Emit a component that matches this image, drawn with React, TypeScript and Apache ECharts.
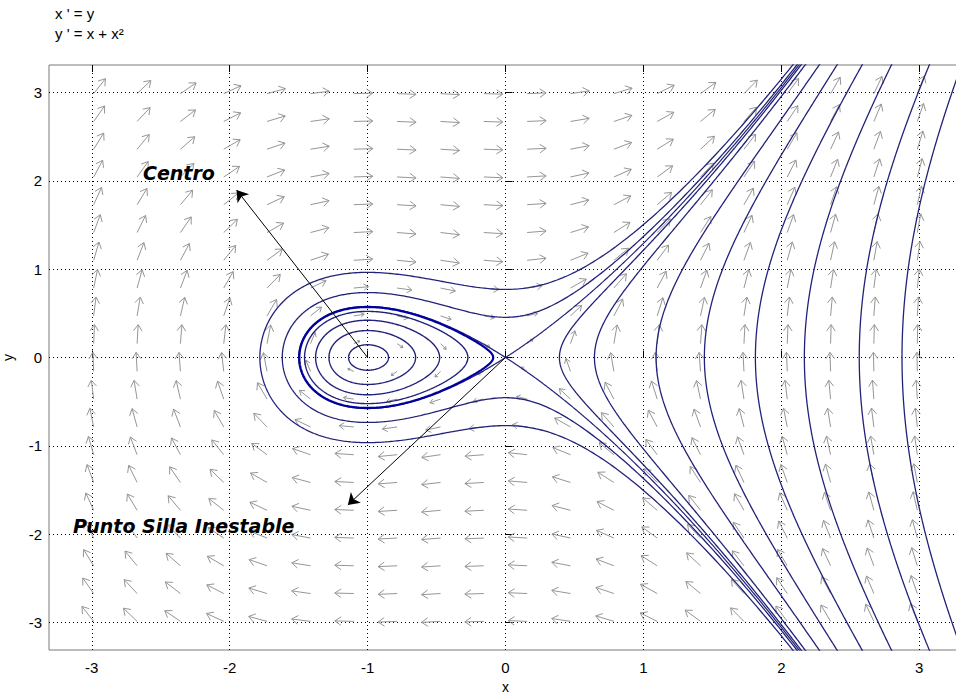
import React, { useEffect, useRef } from 'react';
import * as echarts from 'echarts';

// ---- axes ----
const xTicks = [-3, -2, -1, 0, 1, 2, 3];
const yTicks = [-3, -2, -1, 0, 1, 2, 3];
const axisMin = -3.31;
const axisMax = 3.31;

// ---- direction field grid (arrow tails) ----
const fieldXs = [-2.986, -2.671, -2.357, -2.043, -1.729, -1.414, -1.1, -0.786, -0.471, -0.157,
  0.157, 0.471, 0.786, 1.1, 1.414, 1.729, 2.043, 2.357, 2.671, 2.986];
const fieldYs = [-2.986, -2.671, -2.357, -2.043, -1.729, -1.414, -1.1, -0.786, -0.471, -0.157,
  0.157, 0.471, 0.786, 1.1, 1.414, 1.729, 2.043, 2.357, 2.671, 2.986];

// ---- trajectories ----
// closed orbits around the centre (-1,0): left crossing of the x axis
const centreOrbitLeftCrossings = [-1.138, -1.28, -1.377, -1.457];
// the thick orbit hugging the homoclinic loop: left crossing
const nearLoopLeftCrossing = -1.495;
// orbits passing round the loop: y where they cross x = 0
const outerOrbitYIntercepts = [0.455, 0.771];
// trajectories to the right of the saddle: crossing of the x axis (x > 0)
const rightCrossings = [0.391, 0.645, 1.092, 1.442, 1.812, 2.167, 2.565, 2.875];

// ---- annotations ----
const centroPoint = [-1, 0];
const centroArrowTip = [-1.95, 1.895];
const sillaPoint = [0, 0];
const sillaArrowTip = [-1.143, -1.669];

// system x' = y, y' = x + x^2 ; conserved H = y^2/2 - x^2/2 - x^3/3
const ySq = (x: number, C: number) => 2 * C + x * x + (2 / 3) * x * x * x;
const energyOnAxis = (x: number) => -(x * x) / 2 - (x * x * x) / 3;

function bisect(g: (x: number) => number, lo: number, hi: number) {
  let glo = g(lo);
  for (let i = 0; i < 80; i++) {
    const mid = (lo + hi) / 2;
    const gm = g(mid);
    if (gm > 0 === glo > 0) {
      lo = mid;
      glo = gm;
    } else hi = mid;
  }
  return (lo + hi) / 2;
}

const YLIM = 3.45;
const xAtTop = (C: number) => Math.min(3.45, bisect((x) => ySq(x, C) - YLIM * YLIM, 0, 3.6));

function closedOrbit(x1: number) {
  const C = energyOnAxis(x1);
  const x2 = bisect((x) => ySq(x, C), -1, 0);
  const N = 240;
  const up: number[][] = [];
  const down: number[][] = [];
  for (let i = 0; i <= N; i++) {
    const t = (Math.PI * i) / N;
    const x = x1 + ((x2 - x1) * (1 - Math.cos(t))) / 2;
    const y = Math.sqrt(Math.max(0, ySq(x, C)));
    up.push([x, y]);
    down.push([x, -y]);
  }
  return up.concat(down.reverse());
}

function openCurve(C: number, xStart: number) {
  const xEnd = xAtTop(C);
  const N = 300;
  const up: number[][] = [];
  const down: number[][] = [];
  for (let i = 0; i <= N; i++) {
    const s = i / N;
    const x = xStart + (xEnd - xStart) * s * s;
    const y = Math.sqrt(Math.max(0, ySq(x, C)));
    up.push([x, y]);
    down.push([x, -y]);
  }
  return up.reverse().concat(down);
}

function outerOrbit(y0: number) {
  const C = (y0 * y0) / 2;
  const xL = bisect((x) => ySq(x, C), -3.4, -1.5);
  return openCurve(C, xL);
}

function rightCurve(a: number) {
  return openCurve(energyOnAxis(a), a);
}

const trajColor = '#22227a';

function lineSeries(data: number[][], color: string, width: number) {
  return {
    type: 'line',
    data,
    showSymbol: false,
    symbol: 'none',
    silent: true,
    clip: true,
    z: 3,
    lineStyle: { color, width },
  };
}

export default function App() {
  const ref = useRef<HTMLDivElement>(null);

  useEffect(() => {
    if (!ref.current) return;
    const chart = echarts.init(ref.current, undefined, { renderer: 'svg' });

    const fieldData: number[][] = [];
    for (const fx of fieldXs) {
      for (const fy of fieldYs) {
        fieldData.push([fx, fy, fy, fx + fx * fx]);
      }
    }

    const series: any[] = [
      {
        type: 'custom',
        silent: true,
        z: 1,
        data: fieldData,
        encode: { x: 0, y: 1 },
        renderItem: (params: any, api: any) => {
          const x = api.value(0);
          const y = api.value(1);
          const vx = api.value(2);
          const vy = api.value(3);
          const p = api.coord([x, y]);
          const px = api.coord([x + 1, y]);
          const py = api.coord([x, y + 1]);
          const sx = px[0] - p[0];
          const sy = p[1] - py[1];
          let dx = vx * sx;
          let dy = -vy * sy;
          const n = Math.hypot(dx, dy) || 1;
          dx /= n;
          dy /= n;
          const mag = Math.hypot(vx, vy);
          const L = Math.min(19, 4 + 13.5 * mag);
          const ex = p[0] + dx * L;
          const ey = p[1] + dy * L;
          const h = L * 0.4;
          const ang = 0.6;
          const bx = -dx;
          const by = -dy;
          const c = Math.cos(ang);
          const s = Math.sin(ang);
          const b1 = [ex + h * (bx * c - by * s), ey + h * (bx * s + by * c)];
          const b2 = [ex + h * (bx * c + by * s), ey + h * (-bx * s + by * c)];
          return {
            type: 'group',
            children: [
              {
                type: 'line',
                shape: { x1: p[0], y1: p[1], x2: ex, y2: ey },
                style: { stroke: '#969696', lineWidth: 1 },
              },
              {
                type: 'polyline',
                shape: { points: [b1, [ex, ey], b2] },
                style: { stroke: '#969696', lineWidth: 1, fill: 'none' },
              },
            ],
          };
        },
      },
    ];

    centreOrbitLeftCrossings.forEach((x1) => series.push(lineSeries(closedOrbit(x1), trajColor, 1.4)));
    // homoclinic loop and the saddle's separatrices
    series.push(lineSeries(closedOrbit(-1.5), trajColor, 1.3));
    series.push(lineSeries(openCurve(0, 0), trajColor, 1.2));
    series.push(lineSeries(closedOrbit(nearLoopLeftCrossing), '#0000a0', 2.2));
    outerOrbitYIntercepts.forEach((y0) => series.push(lineSeries(outerOrbit(y0), trajColor, 1.3)));
    rightCrossings.forEach((a) => series.push(lineSeries(rightCurve(a), trajColor, 1.3)));

    series.push({
      type: 'lines',
      coordinateSystem: 'cartesian2d',
      silent: true,
      z: 6,
      symbol: ['none', 'arrow'],
      symbolSize: 11,
      lineStyle: { color: '#000', width: 1, opacity: 1, curveness: 0 },
      data: [
        { coords: [centroPoint, centroArrowTip] },
        { coords: [sillaPoint, sillaArrowTip] },
      ],
    });

    const labelFont = 'Liberation Sans, Arial, sans-serif';

    const option: any = {
      animation: false,
      grid: {
        left: 49,
        top: 65,
        width: 913,
        height: 585,
        containLabel: false,
        outerBoundsMode: 'none',
        show: true,
        borderColor: '#7a7a7a',
        borderWidth: 1,
        backgroundColor: 'transparent',
      },
      xAxis: [
        {
          type: 'value',
          min: axisMin,
          max: axisMax,
          position: 'bottom',
          name: 'x',
          nameLocation: 'middle',
          nameGap: 29,
          nameTextStyle: { color: '#000', fontSize: 14, lineHeight: 14, fontFamily: labelFont },
          axisLine: { show: false },
          axisTick: { show: true, inside: true, length: 7, customValues: xTicks, lineStyle: { color: '#000' } },
          axisLabel: { show: true, customValues: xTicks, color: '#000', fontSize: 15, fontFamily: labelFont, margin: 10 },
          splitLine: { show: true, lineStyle: { color: '#000', width: 1, type: [1, 3] } },
        },
        {
          type: 'value',
          min: axisMin,
          max: axisMax,
          position: 'top',
          axisLine: { show: false },
          axisTick: { show: true, inside: true, length: 7, customValues: xTicks, lineStyle: { color: '#000' } },
          axisLabel: { show: false },
          splitLine: { show: false },
        },
      ],
      yAxis: [
        {
          type: 'value',
          min: axisMin,
          max: axisMax,
          position: 'left',
          name: 'y',
          nameLocation: 'middle',
          nameGap: 34,
          nameRotate: 90,
          nameTextStyle: { color: '#000', fontSize: 14, fontFamily: labelFont },
          axisLine: { show: false },
          axisTick: { show: true, inside: true, length: 7, customValues: yTicks, lineStyle: { color: '#000' } },
          axisLabel: { show: true, customValues: yTicks, color: '#000', fontSize: 15, fontFamily: labelFont, margin: 7 },
          splitLine: { show: true, lineStyle: { color: '#000', width: 1, type: [1, 3] } },
        },
      ],
      graphic: [
        {
          type: 'text',
          x: 55,
          y: 3,
          style: {
            text: "x ' = y\ny ' = x + x²",
            fill: '#000',
            fontSize: 15,
            lineHeight: 20,
            fontFamily: labelFont,
          },
        },
        {
          type: 'text',
          x: 143,
          y: 173,
          z: 10,
          style: {
            text: 'Centro',
            fill: '#000',
            fontSize: 19,
            fontWeight: 'bold',
            fontStyle: 'italic',
            fontFamily: 'DejaVu Sans',
            verticalAlign: 'middle',
          },
        },
        {
          type: 'text',
          x: 73,
          y: 526,
          z: 10,
          style: {
            text: 'Punto Silla Inestable',
            fill: '#000',
            fontSize: 19,
            fontWeight: 'bold',
            fontStyle: 'italic',
            fontFamily: 'DejaVu Sans',
            verticalAlign: 'middle',
          },
        },
      ],
      series,
    };

    chart.setOption(option);
    return () => chart.dispose();
  }, []);

  return (
    <div
      ref={ref}
      style={{ position: 'absolute', left: 0, top: 0, width: 956, height: 698, background: '#fff' }}
    />
  );
}
